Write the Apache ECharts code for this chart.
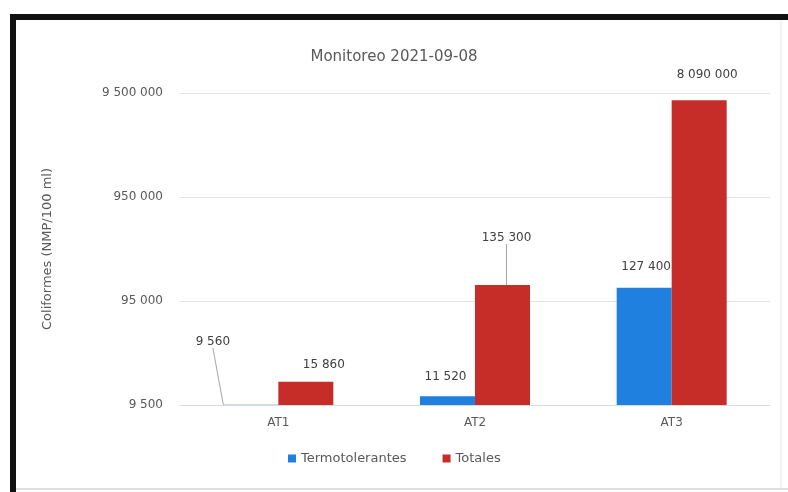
<!DOCTYPE html>
<html>
<head>
<meta charset="utf-8">
<style>
  html, body { margin: 0; padding: 0; background: #ffffff; }
  #chart { width: 788px; height: 492px; }
</style>
<script src="https://cdn.jsdelivr.net/npm/echarts@6/dist/echarts.min.js"></script>
</head>
<body>
<div id="chart"></div>
<script>
// Sampling stations
const categories = ['AT1', 'AT2', 'AT3'];
// Coliform counts (NMP/100 ml)
const termotolerantes = [9560, 11520, 127400];
const totales = [15860, 135300, 8090000];
// Log-axis tick values
const tickValues = [9500, 95000, 950000, 9500000];

const chartTitle = 'Monitoreo 2021-09-08';
const yName = 'Coliformes (NMP/100 ml)';

const fmt = v => String(Math.round(v)).replace(/\B(?=(\d{3})+(?!\d))/g, ' ');

const FONT = 'DejaVu Sans';
const GREY = '#595959';

// Per-label nudges (series-dataIndex) from the default "top" position
const labelShift = {
  '0-0': { dx: -38, dy: -52 },
  '0-1': { dx: -2, dy: -8 },
  '0-2': { dx: 2, dy: -10 },
  '1-0': { dx: 18, dy: -6 },
  '1-1': { dx: 4, dy: -36 },
  '1-2': { dx: 8, dy: -14 }
};
// Labels that keep a guide line back to their bar
const guided = { '0-0': true, '1-1': true };

const chart = echarts.init(document.getElementById('chart'), null, { renderer: 'canvas' });

const barLabel = {
  show: true,
  position: 'top',
  formatter: p => fmt(p.value),
  fontFamily: FONT,
  fontSize: 12,
  color: '#404040'
};

const buildData = (values, s) => values.map((v, i) => ({
  value: v,
  labelLine: { show: !!guided[s + '-' + i] }
}));

chart.setOption({
  backgroundColor: '#ffffff',
  animation: false,
  title: {
    text: chartTitle,
    left: 'center',
    top: 45,
    textStyle: { fontFamily: FONT, fontSize: 15, fontWeight: 'normal', color: GREY }
  },
  legend: {
    bottom: 22,
    left: 283,
    icon: 'rect',
    itemWidth: 8,
    itemHeight: 8,
    itemGap: 36,
    textStyle: { fontFamily: FONT, fontSize: 13, color: GREY },
    data: ['Termotolerantes', 'Totales']
  },
  grid: { left: 180, right: 18, top: 93, bottom: 87 },
  xAxis: {
    type: 'category',
    data: categories,
    axisLine: { show: true, lineStyle: { color: '#d9d9d9' } },
    axisTick: { show: false },
    axisLabel: { fontFamily: FONT, fontSize: 12, color: GREY, margin: 12 }
  },
  yAxis: {
    type: 'log',
    logBase: 10,
    min: 9500,
    max: 9500000,
    name: yName,
    nameLocation: 'middle',
    nameGap: 126,
    nameTextStyle: { fontFamily: FONT, fontSize: 13, color: GREY },
    axisLine: { show: false },
    axisTick: { show: false, customValues: tickValues },
    axisLabel: {
      customValues: tickValues,
      formatter: v => fmt(v),
      fontFamily: FONT, fontSize: 12, color: GREY, margin: 17
    },
    splitLine: { show: true, customValues: tickValues, lineStyle: { color: '#e3e3e3' } }
  },
  series: [
    {
      name: 'Termotolerantes',
      type: 'bar',
      data: buildData(termotolerantes, 0),
      barWidth: 55,
      barGap: '0%',
      itemStyle: { color: '#1f80e0' },
      label: barLabel,
      labelLine: { lineStyle: { color: '#a6a6a6', width: 1 } },
      labelLayout: p => labelShift['0-' + p.dataIndex]
    },
    {
      name: 'Totales',
      type: 'bar',
      data: buildData(totales, 1),
      barWidth: 55,
      barGap: '0%',
      itemStyle: { color: '#c62d28' },
      label: barLabel,
      labelLine: { lineStyle: { color: '#a6a6a6', width: 1 } },
      labelLayout: p => labelShift['1-' + p.dataIndex]
    }
  ],
  graphic: [
    { type: 'line', shape: { x1: 13, y1: 14, x2: 13, y2: 492 }, style: { stroke: '#111', lineWidth: 6 } },
    { type: 'line', shape: { x1: 10, y1: 17, x2: 788, y2: 17 }, style: { stroke: '#111', lineWidth: 6 } },
    { type: 'line', shape: { x1: 16, y1: 489, x2: 788, y2: 489 }, style: { stroke: '#bdbdbd', lineWidth: 1 } },
    { type: 'line', shape: { x1: 781, y1: 20, x2: 781, y2: 489 }, style: { stroke: '#e6e6e6', lineWidth: 1 } }
  ]
});
</script>
</body>
</html>
